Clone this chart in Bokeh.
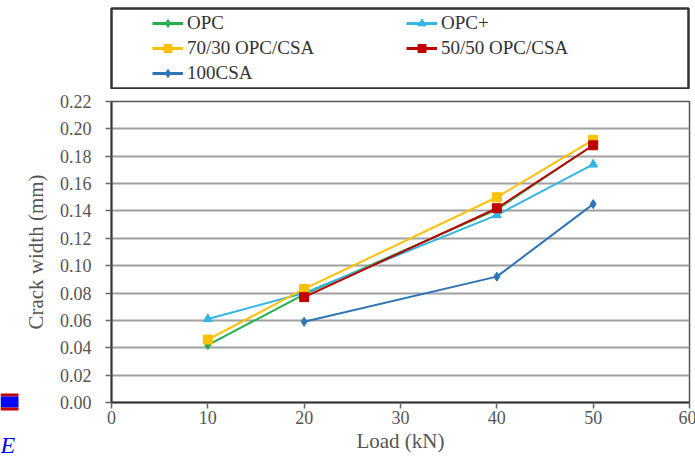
from bokeh.plotting import figure
from bokeh.models import Legend, LegendItem, SingleIntervalTicker, NumeralTickFormatter, Range1d
from bokeh.core.properties import value
from bokeh.layouts import column, row
from bokeh.embed import file_html
from bokeh.resources import INLINE

# ---- data ----
series_names = ["OPC", "OPC+", "70/30 OPC/CSA", "50/50 OPC/CSA", "100CSA"]
opc_load = [10, 20, 40, 50]
opc_crack = [0.042, 0.079, 0.141, 0.188]
opcp_load = [10, 20, 40, 50]
opcp_crack = [0.061, 0.080, 0.137, 0.174]
mix7030_load = [10, 20, 40, 50]
mix7030_crack = [0.046, 0.083, 0.150, 0.192]
mix5050_load = [20, 40, 50]
mix5050_crack = [0.077, 0.142, 0.188]
csa_load = [20, 40, 50]
csa_crack = [0.059, 0.092, 0.145]

colors = ["#22b14c", "#33b5e5", "#ffc000", "#c00000", "#2e75b6"]
markers = ["diamond", "triangle", "square", "square", "diamond"]
sizes = [9, 9, 9, 9, 9]
data = [(opc_load, opc_crack), (opcp_load, opcp_crack), (mix7030_load, mix7030_crack),
        (mix5050_load, mix5050_crack), (csa_load, csa_crack)]

FONT = "Liberation Serif"
TXT = "#555555"
LEFT = 20  # width of the left strip with page artifacts

# ---- main chart ----
p = figure(width=695 - LEFT, height=369, output_backend="svg", toolbar_location=None,
           x_range=Range1d(0, 60), y_range=Range1d(0, 0.22),
           min_border_left=110 - LEFT, min_border_right=7, min_border_top=12, min_border_bottom=56,
           frame_width=578, frame_height=301)
p.outline_line_color = "#555555"
p.outline_line_width = 1.5
p.background_fill_color = "white"
p.border_fill_color = "white"

for (xs, ys), c, m, s in zip(data, colors, markers, sizes):
    p.line(xs, ys, line_color=c, line_width=2)
    p.scatter(xs, ys, marker=m, size=s, fill_color=c, line_color=c)

p.xaxis.ticker = SingleIntervalTicker(interval=10)
p.yaxis.ticker = SingleIntervalTicker(interval=0.02)
p.yaxis.formatter = NumeralTickFormatter(format="0.00")
p.xgrid.grid_line_color = None
p.ygrid.grid_line_color = "#a0a0a0"
p.ygrid.grid_line_width = 2
for ax in (p.xaxis, p.yaxis):
    ax.axis_line_color = "#333333"
    ax.axis_line_width = 2
    ax.major_tick_line_color = "#666666"
    ax.major_tick_line_width = 1.5
    ax.major_tick_in = 0
    ax.major_tick_out = 6
    ax.minor_tick_line_color = None
    ax.major_label_text_font = FONT
    ax.major_label_text_font_size = "18px"
    ax.major_label_text_color = TXT
    ax.axis_label_text_font = FONT
    ax.axis_label_text_font_size = "21px"
    ax.axis_label_text_font_style = "normal"
    ax.axis_label_text_color = TXT
p.xaxis.axis_label = "Load (kN)"
p.yaxis.axis_label = "Crack width (mm)"
p.xaxis.major_label_standoff = 2
p.xaxis.axis_label_standoff = 2
p.yaxis.major_label_standoff = 14
p.yaxis.axis_label_standoff = 9

# ---- legend panel ----
lp = figure(width=695 - LEFT, height=89, output_backend="svg", toolbar_location=None,
            x_range=Range1d(100, 101), y_range=Range1d(100, 101),
            min_border_left=108 - LEFT, min_border_right=10 + LEFT, min_border_top=8, min_border_bottom=1,
            frame_width=577, frame_height=80)
lp.axis.visible = False
lp.grid.visible = False
lp.outline_line_color = "#333333"
lp.outline_line_width = 2.5

items = {}
for (xs, ys), name, c, m, s in zip(data, series_names, colors, markers, sizes):
    lr = lp.line(xs, ys, line_color=c, line_width=3)
    sr = lp.scatter(xs, ys, marker=m, size=s, fill_color=c, line_color=c)
    items[name] = LegendItem(label=name, renderers=[lr, sr])
order = ["OPC", "70/30 OPC/CSA", "100CSA", "OPC+", "50/50 OPC/CSA"]

legend = Legend(items=[items[n] for n in order], ncols=2, location=(41, 3),
                label_text_font=FONT, label_text_font_size="19px", label_text_color="#333333",
                glyph_width=31, glyph_height=20, label_standoff=4, label_width=218,
                label_height=24, spacing=1, padding=0, margin=0,
                border_line_alpha=0, background_fill_alpha=0)
lp.add_layout(legend, "center")

# ---- left strip with stray page fragments ----
lf = figure(width=LEFT, height=458, output_backend="svg", toolbar_location=None,
            x_range=Range1d(0, LEFT), y_range=Range1d(458, 0),
            min_border=0, min_border_left=0, min_border_right=0, min_border_top=0, min_border_bottom=0)
lf.axis.visible = False
lf.grid.visible = False
lf.outline_line_color = None
lf.quad(left=[0, 0, 0], right=[18, 18, 18], top=[393, 396, 407], bottom=[396, 407, 410],
        fill_color=["#c00000", "#0000ff", "#c00000"], line_color=None)
lf.text(x=[0], y=[431], text=["E"], text_font=value(FONT), text_font_style="italic",
        text_font_size="24px", text_color="#0000ff", text_baseline="top")

layout = row(lf, column(lp, p, spacing=0), spacing=0)
open("out.html", "w").write(file_html(layout, INLINE))
